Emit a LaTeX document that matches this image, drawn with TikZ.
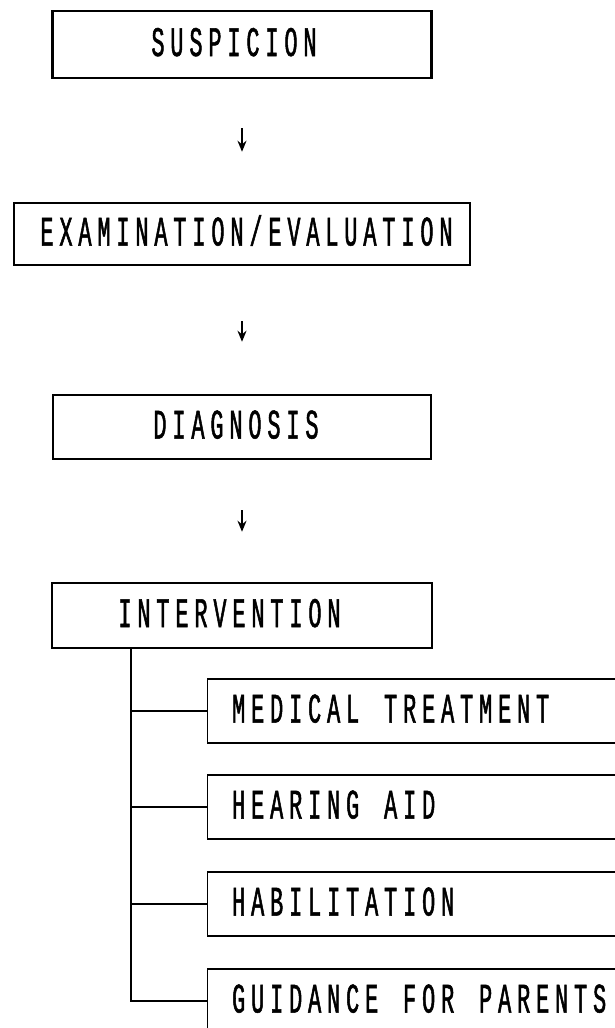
\documentclass[tikz,border=0pt]{standalone}
\usepackage{fontspec}
\usetikzlibrary{arrows.meta}
\newfontfamily\monofnt{Liberation Mono}[FakeStretch=0.52,FakeBold=1.2]
\def\spc#1{\spcloop#1\relax}
\def\spcloop#1{\ifx#1\relax\else\makebox[19pt][c]{#1}\expandafter\spcloop\fi}
\tikzset{
  lettering/.style={font={\monofnt\fontsize{42pt}{44pt}\selectfont}},
  mainbox/.style={draw, line width=2.5pt, inner sep=0pt, text height=23pt, text depth=0pt, lettering},
  subbox/.style={draw, line width=1.4pt, anchor=west, inner xsep=21.5pt, inner ysep=0pt,
    minimum height=64pt, text height=23pt, text depth=0pt, lettering},
  conn/.style={line width=1.4pt},
  arr/.style={line width=2.4pt, -{Stealth[length=11pt,width=9pt]}}
}
\begin{document}
\begin{tikzpicture}[x=1pt,y=-1pt]
\path[use as bounding box, fill=white] (0,0) rectangle (615,1028);
\clip (0,0) rectangle (615,1028);
\node[mainbox, minimum width=379pt, minimum height=67pt] (S) at (242,44.5) {\hspace*{-16pt}\spc{SUSPICION}};
\node[mainbox, minimum width=456pt, minimum height=62pt] (E) at (242,234) {\hspace*{9pt}\spc{EXAMINATION/EVALUATION}};
\node[mainbox, minimum width=378pt, minimum height=64pt] (D) at (242,427) {\hspace*{-12pt}\spc{DIAGNOSIS}};
\node[mainbox, minimum width=380pt, minimum height=65pt] (I) at (242,615.5) {\hspace*{-25pt}\spc{INTERVENTION}};
\draw[arr] ([yshift=-49pt]S.south) -- ([yshift=50pt]E.north);
\draw[arr] ([yshift=-55pt]E.south) -- ([yshift=52pt]D.north);
\draw[arr] ([yshift=-50pt]D.south) -- ([yshift=50pt]I.north);
\node[subbox] (M) at (207,711) {\makebox[390pt][l]{\spc{MEDICAL~TREATMENT}}};
\node[subbox] (H) at (207,807) {\makebox[390pt][l]{\spc{HEARING~AID}}};
\node[subbox] (B) at (207,904) {\makebox[390pt][l]{\spc{HABILITATION}}};
\node[subbox] (G) at (207,1001) {\makebox[390pt][l]{\spc{GUIDANCE~FOR~PARENTS}}};
\path (I.south) ++(-111,0) coordinate (trunk);
\draw[conn] (trunk) |- (G.west);
\foreach \n in {M,H,B} \draw[conn] (trunk |- \n.west) -- (\n.west);
\end{tikzpicture}
\end{document}
